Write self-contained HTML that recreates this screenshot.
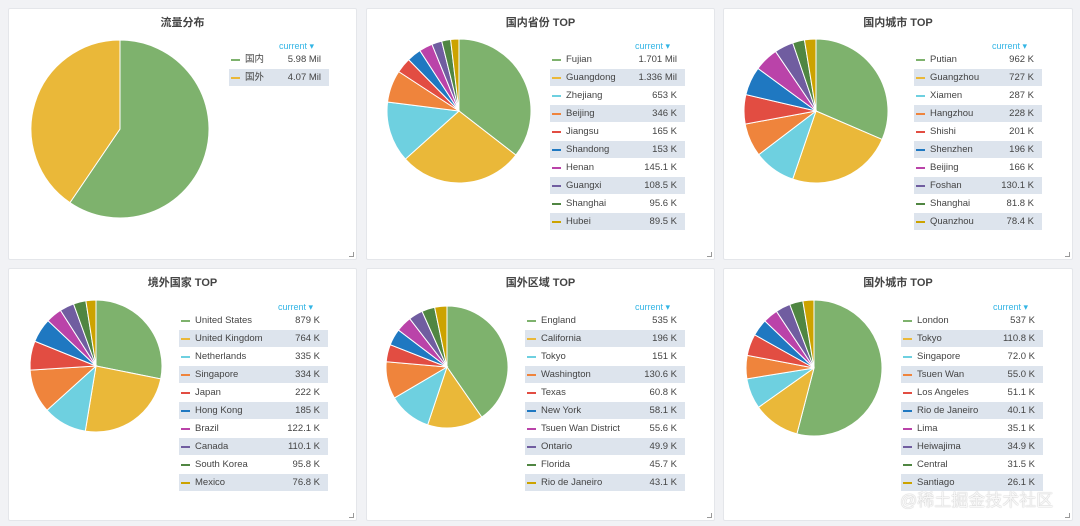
<!DOCTYPE html>
<html><head><meta charset="utf-8">
<style>
body{margin:0;width:1080px;height:526px;background:#f1f2f5;font-family:"Liberation Sans","Noto Sans CJK SC",sans-serif;position:relative;overflow:hidden}
.panel{position:absolute;background:#fff;border:1px solid #e4e6ea;border-radius:2px}
.title{position:absolute;left:0;right:0;top:5px;text-align:center;font-size:11px;color:#444;font-weight:bold}
.cur{position:absolute;font-size:9px;color:#33b5e5}
.row{position:absolute;height:17px;font-size:9.5px;color:#444;line-height:17px}
.row.alt{background:#dde4ed}
.sw{position:absolute;left:2px;top:8px;width:9px;height:2px}
.nm{position:absolute;left:16px}
.vl{position:absolute;right:8px}
.grip{position:absolute;right:2px;bottom:2px;width:4px;height:4px;border-right:1px solid #999;border-bottom:1px solid #999}
.wm{position:absolute;left:900px;top:486px;font-size:17px;color:rgba(255,255,255,0.9);text-shadow:0 0 1px #999}
</style></head><body>
<div id="root"></div>
<div class="wm">@稀土掘金技术社区</div>
<script>
const colors=["#7EB26D","#EAB839","#6ED0E0","#EF843C","#E24D42","#1F78C1","#BA43A9","#705DA0","#508642","#CCA300"];
const titles=["流量分布","国内省份 TOP","国内城市 TOP","境外国家 TOP","国外区域 TOP","国外城市 TOP"];
const labels0=["国内","国外"];
const values0=[5980,4070];
const text0=["5.98 Mil","4.07 Mil"];
const labels1=["Fujian","Guangdong","Zhejiang","Beijing","Jiangsu","Shandong","Henan","Guangxi","Shanghai","Hubei"];
const values1=[1701,1336,653,346,165,153,145.1,108.5,95.6,89.5];
const text1=["1.701 Mil","1.336 Mil","653 K","346 K","165 K","153 K","145.1 K","108.5 K","95.6 K","89.5 K"];
const labels2=["Putian","Guangzhou","Xiamen","Hangzhou","Shishi","Shenzhen","Beijing","Foshan","Shanghai","Quanzhou"];
const values2=[962,727,287,228,201,196,166,130.1,81.8,78.4];
const text2=["962 K","727 K","287 K","228 K","201 K","196 K","166 K","130.1 K","81.8 K","78.4 K"];
const labels3=["United States","United Kingdom","Netherlands","Singapore","Japan","Hong Kong","Brazil","Canada","South Korea","Mexico"];
const values3=[879,764,335,334,222,185,122.1,110.1,95.8,76.8];
const text3=["879 K","764 K","335 K","334 K","222 K","185 K","122.1 K","110.1 K","95.8 K","76.8 K"];
const labels4=["England","California","Tokyo","Washington","Texas","New York","Tsuen Wan District","Ontario","Florida","Rio de Janeiro"];
const values4=[535,196,151,130.6,60.8,58.1,55.6,49.9,45.7,43.1];
const text4=["535 K","196 K","151 K","130.6 K","60.8 K","58.1 K","55.6 K","49.9 K","45.7 K","43.1 K"];
const labels5=["London","Tokyo","Singapore","Tsuen Wan","Los Angeles","Rio de Janeiro","Lima","Heiwajima","Central","Santiago"];
const values5=[537,110.8,72.0,55.0,51.1,40.1,35.1,34.9,31.5,26.1];
const text5=["537 K","110.8 K","72.0 K","55.0 K","51.1 K","40.1 K","35.1 K","34.9 K","31.5 K","26.1 K"];
const L=[labels0,labels1,labels2,labels3,labels4,labels5];
const V=[values0,values1,values2,values3,values4,values5];
const T=[text0,text1,text2,text3,text4,text5];
// layout: panel box, pie center/radius (page coords), legend x/width/first row y
const layout=[
 {x:8,y:8,w:347,h:250,cx:119,cy:128,r:89,lx:228,lw:100,ly:50},
 {x:366,y:8,w:347,h:250,cx:458,cy:110,r:72,lx:549,lw:135,ly:50},
 {x:723,y:8,w:348,h:250,cx:815,cy:110,r:72,lx:913,lw:128,ly:50},
 {x:8,y:268,w:347,h:251,cx:95,cy:365,r:66,lx:178,lw:149,ly:311},
 {x:366,y:268,w:347,h:251,cx:446,cy:366,r:61,lx:524,lw:160,ly:311},
 {x:723,y:268,w:348,h:251,cx:813,cy:367,r:68,lx:900,lw:142,ly:311}
];
const root=document.getElementById('root');
const NS='http://www.w3.org/2000/svg';
layout.forEach((p,i)=>{
  const pn=document.createElement('div');pn.className='panel';
  
  
  pn.style.cssText=`left:${p.x}px;top:${p.y}px;width:${p.w}px;height:${p.h}px`;
  const t=document.createElement('div');t.className='title';t.textContent=titles[i];
  
  
  pn.appendChild(t);
  const svg=document.createElementNS(NS,'svg');
  svg.setAttribute('width',p.w);svg.setAttribute('height',p.h);
  svg.style.cssText='position:absolute;left:0;top:0';
  const vals=V[i];const tot=vals.reduce((a,b)=>a+b,0);
  let a=0;const cx=p.cx-p.x,cy=p.cy-p.y,r=p.r;
  vals.forEach((v,k)=>{
    const a2=a+v/tot*2*Math.PI;
    const x1=cx+r*Math.sin(a),y1=cy-r*Math.cos(a),x2=cx+r*Math.sin(a2),y2=cy-r*Math.cos(a2);
    const path=document.createElementNS(NS,'path');
    path.setAttribute('d',`M${cx},${cy}L${x1},${y1}A${r},${r} 0 ${a2-a>Math.PI?1:0} 1 ${x2},${y2}Z`);
    path.setAttribute('fill',colors[k]);path.setAttribute('stroke','#fff');path.setAttribute('stroke-width','1');
    
    
    svg.appendChild(path);a=a2;
  });
  pn.appendChild(svg);
  const c=document.createElement('div');c.className='cur';c.textContent='current ▾';
  
  
  c.style.cssText=`left:${p.lx-p.x+p.lw-50}px;top:${p.ly-p.y-22+12}px`;
  pn.appendChild(c);
  L[i].forEach((lab,k)=>{
    const row=document.createElement('div');row.className='row'+(k%2?' alt':'');
    
    
    row.style.cssText=`left:${p.lx-p.x}px;top:${p.ly-p.y+k*18}px;width:${p.lw}px`;
    row.innerHTML=`<span class="sw" style="background:${colors[k]}"></span><span class="nm">${lab}</span><span class="vl">${T[i][k]}</span>`;
    pn.appendChild(row);
  });
  const g=document.createElement('div');g.className='grip';
  
  
  pn.appendChild(g);
  root.appendChild(pn);
});
</script>
</body></html>
